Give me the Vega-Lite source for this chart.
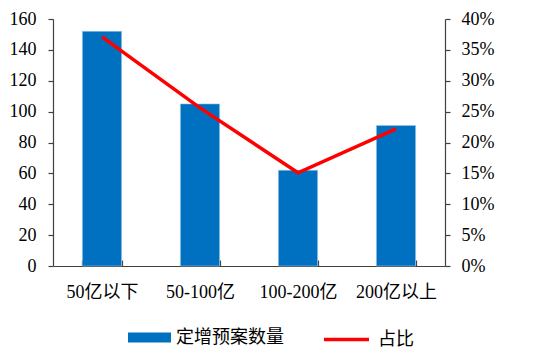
{
  "$schema": "https://vega.github.io/schema/vega-lite/v6.json",
  "autosize": "none",
  "padding": {"left": 53, "top": 19, "right": 105, "bottom": 94},
  "width": 392,
  "height": 247,
  "background": "white",
  "config": {
    "view": {"stroke": null},
    "font": "'Liberation Serif', 'Noto Sans CJK SC'",
    "axis": {
      "labelFont": "'Liberation Serif', 'Noto Sans CJK SC'",
      "labelFontSize": 18,
      "labelColor": "#000000",
      "domainColor": "#404040",
      "tickColor": "#404040",
      "domainWidth": 1.2,
      "tickWidth": 1.2,
      "grid": false,
      "title": null
    },
    "legend": {
      "labelFont": "'Liberation Serif', 'Noto Sans CJK SC'",
      "labelFontSize": 18,
      "labelColor": "#000000",
      "padding": 0
    }
  },
  "data": {
    "values": [
      {"category": "50亿以下", "count": 152, "share": 0.371},
      {"category": "50-100亿", "count": 105, "share": 0.256},
      {"category": "100-200亿", "count": 62, "share": 0.151},
      {"category": "200亿以上", "count": 91, "share": 0.222}
    ]
  },
  "encoding": {
    "x": {
      "field": "category",
      "type": "nominal",
      "sort": null,
      "scale": {"paddingInner": 0.6, "paddingOuter": 0.3},
      "axis": {
        "labelAngle": 0,
        "tickBand": "extent",
        "tickSize": -6,
        "labelPadding": 23,
        "domainColor": "#404040"
      }
    }
  },
  "layer": [
    {
      "mark": {"type": "bar", "stroke": "#9dc3e6", "strokeWidth": 0.6},
      "encoding": {
        "y": {
          "field": "count",
          "type": "quantitative",
          "scale": {"domain": [0, 160]},
          "axis": {"values": [0, 20, 40, 60, 80, 100, 120, 140, 160], "tickSize": 5, "labelPadding": 12}
        },
        "fill": {
          "datum": "定增预案数量",
          "scale": {"range": ["#0070C0"]},
          "legend": {
            "orient": "none",
            "legendX": 75,
            "legendY": 297,
            "title": null,
            "symbolType": "M-1,-0.23H1V0.23H-1Z",
            "symbolSize": 1849,
            "symbolStrokeWidth": 0,
            "labelOffset": 5
          }
        }
      }
    },
    {
      "mark": {"type": "line", "strokeWidth": 3.5},
      "encoding": {
        "y": {
          "field": "share",
          "type": "quantitative",
          "scale": {"domain": [0, 0.4]},
          "axis": {"orient": "right", "format": ".0%", "values": [0, 0.05, 0.1, 0.15, 0.2, 0.25, 0.3, 0.35, 0.4], "tickSize": 5, "labelPadding": 11}
        },
        "stroke": {
          "datum": "占比",
          "scale": {"range": ["#FF0000"]},
          "legend": {
            "orient": "none",
            "legendX": 269,
            "legendY": 296,
            "title": null,
            "symbolType": "stroke",
            "symbolSize": 2025,
            "symbolStrokeWidth": 3.5,
            "labelOffset": 7
          }
        }
      }
    }
  ],
  "resolve": {"scale": {"y": "independent"}}
}
